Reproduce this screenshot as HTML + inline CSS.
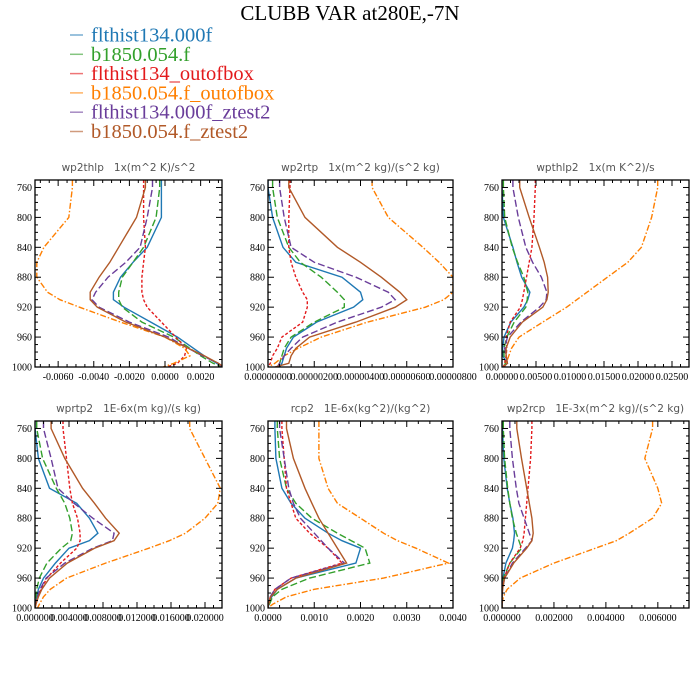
<!DOCTYPE html>
<html><head><meta charset="utf-8"><style>
body{margin:0;background:#fff;}
svg{display:block;}
text{white-space:pre;}
</style></head><body>
<svg id="chart" width="700" height="700" viewBox="0 0 700 700" xmlns="http://www.w3.org/2000/svg">
<text x="350" y="20" text-anchor="middle" font-family="Liberation Serif, serif" font-size="21">CLUBB VAR at280E,-7N</text>
<g id="legend"></g>
<g id="panels"></g>
</svg>
<script>
const seriesNames = ["flthist134.000f","b1850.054.f","flthist134_outofbox","b1850.054.f_outofbox","flthist134.000f_ztest2","b1850.054.f_ztest2"];
const levels = [760,800,840,860,880,900,910,920,940,960,975,985,995,1000];
const yTicks = [760,800,840,880,920,960,1000];
const panelTitles = ["wp2thlp   1x(m^2 K)/s^2","wp2rtp   1x(m^2 kg)/(s^2 kg)","wpthlp2   1x(m K^2)/s","wprtp2   1E-6x(m kg)/(s kg)","rcp2   1E-6x(kg^2)/(kg^2)","wp2rcp   1E-3x(m^2 kg)/(s^2 kg)"];
const xTicks1 = [-0.006,-0.004,-0.002,0,0.002];
const xTicks2 = [0,0.000002,0.000004,0.000006,0.000008];
const xTicks3 = [0,0.005,0.01,0.015,0.02,0.025];
const xTicks4 = [0,0.004,0.008,0.012,0.016,0.02];
const xTicks5 = [0,0.001,0.002,0.003,0.004];
const xTicks6 = [0,0.002,0.004,0.006];
// panel 1 (x1e-3)
const p1Blue=[-0.2,-0.2,-1.0,-1.8,-2.5,-2.9,-2.9,-2.3,-0.8,0.7,1.6,2.2,2.9,3.2];
const p1Green=[-0.3,-0.5,-1.2,-1.8,-2.4,-2.6,-2.6,-2.4,-1.3,0.5,1.4,2.0,2.7,3.2];
const p1Red=[-1.2,-1.2,-1.1,-1.2,-1.3,-1.3,-1.2,-1.0,-0.2,0.6,1.2,1.1,0.7,0.1];
const p1Orange=[-5.2,-5.4,-6.8,-7.2,-7.2,-6.6,-5.9,-4.8,-2.5,0.0,1.1,1.4,0.5,-0.1];
const p1Purple=[-0.7,-1.0,-1.4,-2.2,-3.2,-3.9,-4.1,-3.7,-2.0,0.2,1.3,2.1,3.0,3.2];
const p1Brown=[-1.1,-1.6,-2.6,-3.1,-3.7,-4.2,-4.2,-3.8,-2.2,0.0,1.3,2.2,3.0,3.3];
// panel 2 (x1e-6)
const p2Blue=[0.0,0.2,0.65,1.2,3.2,4.0,4.1,3.7,2.1,1.1,0.8,0.7,0.6,0.5];
const p2Green=[0.2,0.4,0.9,1.4,2.3,3.0,3.3,3.3,2.0,1.0,0.7,0.6,0.5,0.4];
const p2Red=[0.95,0.9,0.9,1.0,1.2,1.5,1.7,1.7,1.5,0.6,0.4,0.2,0.1,0];
const p2Orange=[4.5,5.2,6.7,7.4,8.0,8.0,7.6,6.8,4.3,2.3,1.3,0.7,0.3,0];
const p2Purple=[0.5,0.7,1.0,2.0,3.8,5.2,5.5,4.9,3.0,1.5,1.0,0.7,0.5,0.4];
const p2Brown=[0.9,1.6,3.0,4.0,4.9,5.7,6.0,5.5,3.8,1.8,1.2,1.0,0.9,0.3];
// panel 3 (x1e-3)
const p3Blue=[0,0.2,1.6,2.2,2.9,4.1,3.8,3.2,1.3,0.3,0.1,0.1,0.8,0.2];
const p3Green=[0.2,0.4,1.5,2.3,3.2,3.8,3.7,3.5,1.8,0.7,0.3,0.3,0.5,0.2];
const p3Red=[4.9,4.7,4.4,4.0,3.6,3.2,3.0,2.7,1.2,0.6,0.7,0.6,0.4,0.2];
const p3Orange=[22.9,22.0,20.5,18.5,15.5,12.5,11.0,9.5,6.0,2.5,1.4,1.0,0.6,0.3];
const p3Purple=[1.6,2.4,3.5,4.5,5.8,6.6,6.5,5.5,2.8,0.8,0.4,0.6,0.8,0.3];
const p3Brown=[2.6,4.0,5.5,6.2,6.7,6.8,6.6,6.0,3.0,1.2,0.6,0.6,0.8,0.2];
// panel 4 (x1e-3)
const p4Blue=[0,0.4,1.7,4.9,6.4,7.4,6.4,4.0,2.4,1.0,0.4,0.2,0.05,0];
const p4Green=[0.2,0.9,2.5,3.5,4.1,4.4,4.2,3.1,1.4,0.5,0.2,0.1,0,0];
const p4Red=[3.3,3.7,4.1,4.4,5.0,5.3,5.3,4.9,3.0,1.4,0.7,0.3,0.1,0];
const p4Orange=[18.2,20,21.8,21.5,20,17.7,15.8,13.4,8.3,3.7,1.8,1.0,0.5,0.3];
const p4Purple=[1.0,1.9,2.7,4.6,6.8,9.3,9.1,6.8,3.5,1.3,0.6,0.3,0.1,0];
const p4Brown=[1.9,3.5,5.6,7.0,8.3,9.9,9.3,7.0,3.8,1.7,0.8,0.4,0.1,0];
// panel 5 (x1e-3)
const p5Blue=[0.15,0.17,0.3,0.5,0.8,1.3,1.6,2.0,1.9,0.6,0.2,0.08,0.02,0];
const p5Green=[0.2,0.25,0.4,0.6,0.95,1.5,1.8,2.1,2.2,0.9,0.3,0.1,0.03,0];
const p5Red=[0.3,0.35,0.4,0.5,0.6,0.9,1.1,1.3,1.6,0.5,0.15,0.05,0.01,0];
const p5Orange=[1.1,1.1,1.3,1.5,2.0,2.5,2.8,3.2,3.9,2.5,1.0,0.4,0.1,0];
const p5Purple=[0.25,0.35,0.45,0.55,0.7,1.0,1.15,1.3,1.65,0.5,0.15,0.05,0.01,0];
const p5Brown=[0.4,0.55,0.8,0.95,1.1,1.3,1.4,1.5,1.7,0.6,0.2,0.06,0.01,0];
// panel 6 (x1e-3)
const p6Blue=[0.02,0.07,0.2,0.3,0.42,0.48,0.45,0.4,0.15,0.04,0.01,0,0,0];
const p6Green=[0.05,0.1,0.22,0.3,0.4,0.55,0.65,0.75,0.3,0.05,0.02,0,0,0];
const p6Red=[1.15,1.1,1.0,0.95,0.9,0.85,0.8,0.7,0.3,0.08,0.02,0,0,0];
const p6Orange=[5.8,5.5,6.0,6.15,5.8,4.9,4.4,3.6,2.0,0.7,0.2,0.05,0,0];
const p6Purple=[0.3,0.4,0.55,0.65,0.85,1.05,1.15,0.9,0.4,0.1,0.02,0,0,0];
const p6Brown=[0.57,0.75,0.95,1.05,1.15,1.2,1.15,0.95,0.45,0.1,0.02,0,0,0];

const colors=["#1f78b4","#33a02c","#e31a1c","#ff7f00","#6a3d9a","#b15928"];
const dashes=["","7,3","3,2","6,2,1.5,2","7,3",""];
const NS="http://www.w3.org/2000/svg";
const svg=document.getElementById('chart');
function mk(tag,attrs,parent){const e=document.createElementNS(NS,tag);for(const k in attrs)e.setAttribute(k,attrs[k]);(parent||svg).appendChild(e);return e;}

// legend
const lg=document.getElementById('legend');
seriesNames.forEach((n,i)=>{
  const y=35+i*19.3;
  const ln=mk('line',{x1:70,x2:83,y1:y,y2:y,stroke:colors[i],'stroke-width':1.5,opacity:0.6},lg);
  
  
  const t=mk('text',{x:91,y:y+6.5,fill:colors[i],'font-family':'Liberation Serif, serif','font-size':20.5},lg);
  t.textContent=n;
  
  
});

const panels=[
 {x0:35,x1:222,y0:180,y1:367,xmin:-0.0073,xmax:0.0032,scale:1e-3,ticks:xTicks1,dec:4,minor:0.0005,data:[p1Blue,p1Green,p1Red,p1Orange,p1Purple,p1Brown]},
 {x0:268,x1:453,y0:180,y1:367,xmin:0,xmax:0.000008,scale:1e-6,ticks:xTicks2,dec:8,minor:0.0000005,data:[p2Blue,p2Green,p2Red,p2Orange,p2Purple,p2Brown]},
 {x0:502,x1:689,y0:180,y1:367,xmin:0,xmax:0.0275,scale:1e-3,ticks:xTicks3,dec:5,minor:0.00125,data:[p3Blue,p3Green,p3Red,p3Orange,p3Purple,p3Brown]},
 {x0:35,x1:222,y0:421,y1:608,xmin:0,xmax:0.022,scale:1e-3,ticks:xTicks4,dec:6,minor:0.001,data:[p4Blue,p4Green,p4Red,p4Orange,p4Purple,p4Brown]},
 {x0:268,x1:453,y0:421,y1:608,xmin:0,xmax:0.004,scale:1e-3,ticks:xTicks5,dec:4,minor:0.00025,data:[p5Blue,p5Green,p5Red,p5Orange,p5Purple,p5Brown]},
 {x0:502,x1:689,y0:421,y1:608,xmin:0,xmax:0.0072,scale:1e-3,ticks:xTicks6,dec:6,minor:0.0005,data:[p6Blue,p6Green,p6Red,p6Orange,p6Purple,p6Brown]}
];
const pg=document.getElementById('panels');
panels.forEach((p,pi)=>{
  const g=mk('g',{},pg);
  
  
  const xs=v=>p.x0+(v-p.xmin)/(p.xmax-p.xmin)*(p.x1-p.x0);
  const ys=v=>p.y0+(v-750)/250*(p.y1-p.y0);
  const t=mk('text',{x:(p.x0+p.x1)/2,y:p.y0-9,'text-anchor':'middle','font-family':'DejaVu Sans, sans-serif','font-size':10.5,fill:'#555'},g);
  t.textContent=panelTitles[pi];
  
  
  const clipId='clip'+pi;
  const cp=mk('clipPath',{id:clipId},g);
  mk('rect',{x:p.x0,y:p.y0,width:p.x1-p.x0,height:p.y1-p.y0},cp);
  const lines=mk('g',{'clip-path':'url(#'+clipId+')'},g);
  p.data.forEach((arr,si)=>{
    let d='';
    const pts=[[arr[0],750]].concat(arr.map((v,i)=>[v,levels[i]]));
    pts.forEach((q,i)=>{d+=(i?'L':'M')+xs(q[0]*p.scale).toFixed(1)+','+ys(q[1]).toFixed(1);});
    const path=mk('path',{d:d,fill:'none',stroke:colors[si],'stroke-width':1.4},lines);
    if(dashes[si])path.setAttribute('stroke-dasharray',dashes[si]);
    
    
  });
  for(let v=750;v<=1000;v+=10){
    const maj=yTicks.includes(v); const L=maj?6:3;
    mk('line',{x1:p.x0,x2:p.x0+L,y1:ys(v),y2:ys(v),stroke:'#000','stroke-width':1},g);
    mk('line',{x1:p.x1,x2:p.x1-L,y1:ys(v),y2:ys(v),stroke:'#000','stroke-width':1},g);
  }
  yTicks.forEach(v=>{
    const tt=mk('text',{x:p.x0-3,y:ys(v)+3.5,'text-anchor':'end','font-family':'Liberation Serif, serif','font-size':10},g);
    tt.textContent=v;
    
    
  });
  const n0=Math.ceil((p.xmin-1e-12)/p.minor);
  for(let k=n0;k*p.minor<=p.xmax+1e-12;k++){
    const v=k*p.minor; const maj=p.ticks.some(t=>Math.abs(t-v)<p.minor/10); const L=maj?6:3;
    mk('line',{x1:xs(v),x2:xs(v),y1:p.y1,y2:p.y1-L,stroke:'#000','stroke-width':1},g);
    mk('line',{x1:xs(v),x2:xs(v),y1:p.y0,y2:p.y0+L,stroke:'#000','stroke-width':1},g);
  }
  p.ticks.forEach(v=>{
    const tt=mk('text',{x:xs(v),y:p.y1+13,'text-anchor':'middle','font-family':'Liberation Serif, serif','font-size':10},g);
    tt.textContent=v.toFixed(p.dec);
    
    
  });
  const fr=mk('rect',{x:p.x0,y:p.y0,width:p.x1-p.x0,height:p.y1-p.y0,fill:'none',stroke:'#000','stroke-width':1.3},g);
  
  
});
</script>
</body></html>
